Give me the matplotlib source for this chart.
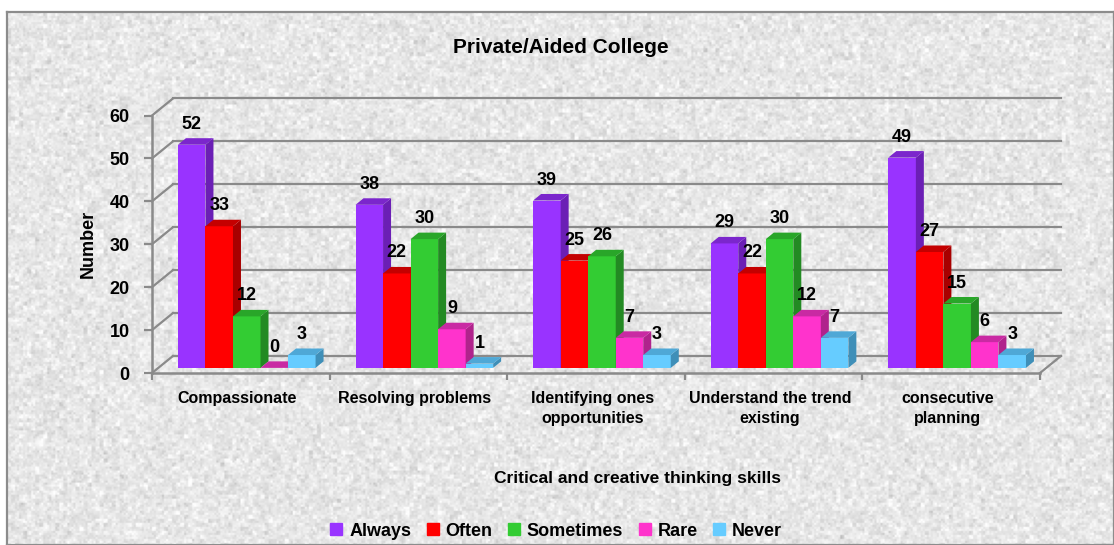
import numpy as np
import matplotlib
matplotlib.use("Agg")
import matplotlib.pyplot as plt
from matplotlib.patches import Polygon
from matplotlib.lines import Line2D

plt.rcParams['font.family'] = ['Liberation Sans Narrow', 'Liberation Sans', 'DejaVu Sans']
plt.rcParams['font.weight'] = 'bold'

categories = ['Compassionate', 'Resolving problems', 'Identifying ones\nopportunities',
              'Understand the trend\nexisting', 'consecutive\nplanning']
series_names = ['Always', 'Often', 'Sometimes', 'Rare', 'Never']
always = [52, 38, 39, 29, 49]
often = [33, 22, 25, 22, 27]
sometimes = [12, 30, 26, 30, 15]
rare = [0, 9, 7, 12, 6]
never = [3, 1, 3, 7, 3]
series = [always, often, sometimes, rare, never]

# front / side / top shades for each series
face_colors = ['#9933FF', '#FF0000', '#33CC33', '#FF33CC', '#66CCFF']
side_colors = ['#6B1FB5', '#A80000', '#238A23', '#B0238C', '#3F8FB8']
top_colors = ['#7B26CC', '#C40000', '#29A629', '#C92AA3', '#4FA8D6']

W, H = 1114, 545
fig = plt.figure(figsize=(W / 100, H / 100), dpi=100, facecolor='white')

# textured chart area with a grey frame
bg = fig.add_axes([7 / W, 0, (W - 7) / W, (H - 12) / H], zorder=0)
rng = np.random.default_rng(11)
coarse = rng.normal(size=(133, 276))
fine = rng.normal(size=(266, 552))
coarse_img = np.kron(coarse, np.ones((4, 4)))[:530, :1100]
fine_img = np.kron(fine, np.ones((2, 2)))[:530, :1100]
texture = np.clip(0.905 + 0.03 * coarse_img + 0.025 * fine_img, 0.72, 1.0)
bg.imshow(texture, cmap='gray', vmin=0, vmax=1, aspect='auto', interpolation='bicubic')
bg.set_xticks([])
bg.set_yticks([])
for s in bg.spines.values():
    s.set_color('#8c8c8c')
    s.set_linewidth(1.6)

ax = fig.add_axes([152 / W, (H - 373) / H, 888 / W, 257.5 / H], zorder=1)
ax.set_facecolor('none')
ax.set_xlim(0, len(categories))
ax.set_ylim(0, 60)

grid_col = '#8a8a8a'
wall_dx, wall_dy = 0.118, 3.97      # depth of the walls in data units
bar_w, group_off = 0.155, 0.146
bar_base = 0.3 * wall_dy
bar_dx, bar_dy = 0.045, 1.52         # depth of each column

# back wall gridlines and left wall diagonals
for v in range(0, 61, 10):
    ax.plot([wall_dx, len(categories) + wall_dx], [v + wall_dy, v + wall_dy],
            color=grid_col, lw=1.6, clip_on=False, zorder=1)
    ax.plot([0, wall_dx], [v, v + wall_dy], color=grid_col, lw=1.6, clip_on=False, zorder=1)
ax.plot([len(categories), len(categories) + wall_dx], [0, wall_dy],
        color=grid_col, lw=1.6, clip_on=False, zorder=1)

for s in ['top', 'right']:
    ax.spines[s].set_visible(False)
for s in ['left', 'bottom']:
    ax.spines[s].set_color(grid_col)
    ax.spines[s].set_linewidth(1.8)

ax.set_yticks(range(0, 61, 10))
ax.tick_params(axis='y', direction='out', length=6, width=1.6, color=grid_col,
               labelsize=13, pad=10)
ax.set_xticks(np.arange(len(categories) + 1), minor=True)
ax.tick_params(axis='x', which='minor', direction='out', length=5, width=1.6, color=grid_col)
ax.set_xticks(np.arange(len(categories)) + 0.48, categories)
ax.tick_params(axis='x', which='major', length=0, labelsize=11.5, pad=13)
for lab in ax.get_yticklabels():
    lab.set_fontweight('bold')
for lab in ax.get_xticklabels():
    lab.set_fontweight('bold')
    lab.set_linespacing(1.45)

ax.set_ylabel('Number', fontsize=13, fontweight='bold')
ax.yaxis.set_label_coords(-0.062, 0.5)

# 3-D style columns
for j, vals in enumerate(series):
    xs = np.arange(len(categories)) + group_off + j * bar_w
    ax.bar(xs, vals, width=bar_w, bottom=bar_base, align='edge',
           color=face_colors[j], zorder=3 + j, clip_on=False)
    for x, v in zip(xs, vals):
        top = bar_base + v
        side = Polygon([(x + bar_w, bar_base), (x + bar_w + bar_dx, bar_base + bar_dy),
                        (x + bar_w + bar_dx, top + bar_dy), (x + bar_w, top)],
                       closed=True, color=side_colors[j], zorder=3 + j, clip_on=False, lw=0)
        lid = Polygon([(x, top), (x + bar_dx, top + bar_dy),
                       (x + bar_w + bar_dx, top + bar_dy), (x + bar_w, top)],
                      closed=True, color=top_colors[j], zorder=3 + j, clip_on=False, lw=0)
        ax.add_patch(side)
        ax.add_patch(lid)
        ax.annotate(str(v), xy=(x + bar_w / 2, top), xytext=(0, 11.5),
                    textcoords='offset points', ha='center', va='baseline',
                    fontsize=13, fontweight='bold', zorder=20, annotation_clip=False)

fig.text(561 / W, 1 - 47 / H, 'Private/Aided College', ha='center', va='center',
         fontsize=15, fontweight='bold')
fig.text(638 / W, 1 - 478 / H, 'Critical and creative thinking skills', ha='center',
         va='center', fontsize=12.5, fontweight='bold')

handles = [Line2D([], [], marker='s', linestyle='none', markersize=8,
                  markerfacecolor=c, markeredgecolor=c) for c in face_colors]
fig.legend(handles, series_names, loc='center', bbox_to_anchor=(556 / W, 1 - 531 / H),
           ncol=5, frameon=False, handlelength=0.7, handletextpad=0.35,
           columnspacing=0.85, borderpad=0, prop={'weight': 'bold', 'size': 13})

fig.savefig('out.png', dpi=100, facecolor='white')
